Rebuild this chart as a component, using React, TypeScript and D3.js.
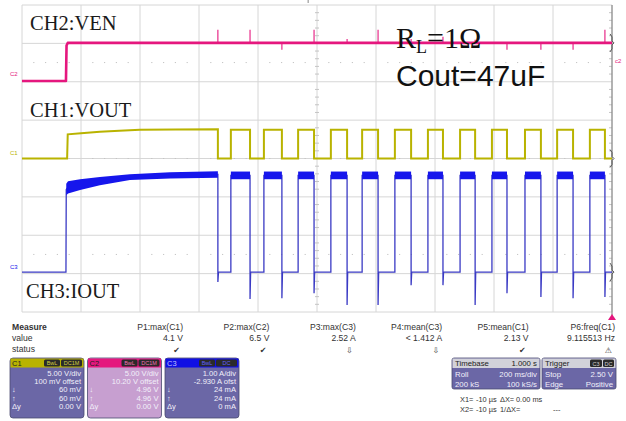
import React from "react";
import * as d3 from "d3";

const W = 626;
const H = 421;

// ---- scope settings ----
const timeDomainMs = [0, 2000]; // 10 div x 200 ms/div
const divDomain = [-4, 4];
const timeGridMs = [0, 200, 400, 600, 800, 1000, 1200, 1400, 1600, 1800, 2000];
const divGrid = [-4, -3, -2, -1, 0, 1, 2, 3, 4];
const dottedRowsDiv = [2.5, 0, -2.5];

const ch1VoltsPerDiv = 5;
const ch1ZeroDiv = 0;
const ch2VoltsPerDiv = 5;
const ch2ZeroDiv = 2.02;
const ch3AmpsPerDiv = 1;
const ch3ZeroDiv = -2.96;

// ---- waveform data ----
const enableRiseMs = 149;
const ch2HighV = 4.96;
const loadOffMs = [664, 773, 881, 990, 1102, 1207, 1319, 1427, 1536, 1644, 1759, 1868, 1976];
const loadOnMs = [708, 820, 936, 1047, 1153, 1264, 1376, 1485, 1593, 1705, 1814, 1925];
const ch2GlitchV = [1.7, 1.7, -0.9, 1.7, 0.5, 1.7, 0.5, 0.8, 0.4, -0.9, -0.9, -0.9, 1.7];
const ch3UndershootA = [-0.26, -0.7, -0.68, -0.55, -0.86, -0.86, -0.34, -0.34, -0.86, -0.55, -0.65, -0.68, -0.65];

const ch1StartupMs = [153, 155, 200, 264, 330, 400, 520, 664];
const ch1StartupV = [0, 3.15, 3.3, 3.5, 3.62, 3.75, 3.78, 3.8];
const ch1HighV = 3.75;

const ch3StartupMs = [150, 156, 197, 264, 366, 502, 664];
const ch3StartupHiA = [2.3, 2.37, 2.42, 2.48, 2.55, 2.6, 2.63];
const ch3StartupLoA = [2.0, 2.05, 2.14, 2.26, 2.4, 2.44, 2.46];
const ch3HighHiA = 2.62;
const ch3HighLoA = 2.42;
const ch3HighA = 2.52;

// ---- text data ----
const traceLabels = ["CH2:VEN", "CH1:VOUT", "CH3:IOUT"];
const measureLabels = ["P1:max(C1)", "P2:max(C2)", "P3:max(C3)", "P4:mean(C3)", "P5:mean(C1)", "P6:freq(C1)"];
const measureValues = ["4.1 V", "6.5 V", "2.52 A", "< 1.412 A", "2.13 V", "9.115513 Hz"];
const measureStatus = ["\u2714", "\u2714", "\u21E9", "\u21E9", "\u2714", "\u26A0"];
const chanNames = ["C1", "C2", "C3"];
const chanBadges = [["BwL", "DC1M"], ["BwL", "DC1M"], ["BwL", "DC"]];
const chanScale = ["5.00 V/div", "5.00 V/div", "1.00 A/div"];
const chanOffset = ["100 mV offset", "10.20 V offset", "-2.930 A ofst"];
const chanDown = ["60 mV", "4.96 V", "24 mA"];
const chanUp = ["60 mV", "4.96 V", "24 mA"];
const chanDelta = ["0.00 V", "0.00 V", "0 mA"];
const cursorRows = [
  ["X1=", "-10 µs", "ΔX=", "0.00 ms"],
  ["X2=", "-10 µs", "1/ΔX=", "---"],
];

const COL = {
  pink: "#e5177e",
  yellow: "#b9b300",
  blue: "#1616ec",
  blueEdge: "#3a3ac4",
  grid: "#d6d6d6",
};

const x = d3.scaleLinear().domain(timeDomainMs).range([22, 612]);
const yDiv = d3.scaleLinear().domain(divDomain).range([312, 5]);
const chY = (perDiv: number, zeroDiv: number) => (v: number) => yDiv(zeroDiv + v / perDiv);
const y1 = chY(ch1VoltsPerDiv, ch1ZeroDiv);
const y2 = chY(ch2VoltsPerDiv, ch2ZeroDiv);
const y3 = chY(ch3AmpsPerDiv, ch3ZeroDiv);

type P = [number, number];

function ch1Points(): P[] {
  const pts: P[] = [[0, 0]];
  ch1StartupMs.forEach((t, i) => pts.push([t, ch1StartupV[i]]));
  loadOffMs.forEach((off, i) => {
    if (i > 0) pts.push([off, ch1HighV]);
    pts.push([off, 0]);
    if (i < loadOnMs.length) {
      pts.push([loadOnMs[i], 0]);
      pts.push([loadOnMs[i], ch1HighV]);
    }
  });
  pts.push([timeDomainMs[1], 0]);
  return pts;
}

function ch2Points(): P[] {
  return [[0, 0], [enableRiseMs, 0], [enableRiseMs + 2, ch2HighV * 0.93], [enableRiseMs + 6, ch2HighV], [timeDomainMs[1], ch2HighV]];
}

function ch3Points(): P[] {
  const pts: P[] = [[0, 0], [enableRiseMs, 0]];
  ch3StartupMs.forEach((t, i) => pts.push([t, (ch3StartupHiA[i] + ch3StartupLoA[i]) / 2]));
  loadOffMs.forEach((off, i) => {
    if (i > 0) pts.push([off, ch3HighA]);
    pts.push([off, ch3UndershootA[i]]);
    pts.push([off + 2, 0]);
    if (i < loadOnMs.length) {
      pts.push([loadOnMs[i], 0]);
      pts.push([loadOnMs[i], ch3HighA]);
    }
  });
  pts.push([timeDomainMs[1], 0]);
  return pts;
}

type B = { t: number; hi: number; lo: number };
function ch3Bands(): B[][] {
  const bands: B[][] = [];
  bands.push(ch3StartupMs.map((t, i) => ({ t, hi: ch3StartupHiA[i], lo: ch3StartupLoA[i] })));
  loadOnMs.forEach((on, i) => {
    const off = loadOffMs[i + 1];
    bands.push([
      { t: on, hi: ch3HighHiA, lo: ch3HighLoA },
      { t: off, hi: ch3HighHiA, lo: ch3HighLoA },
    ]);
  });
  return bands;
}

function Box({ i }: { i: number }) {
  const x0 = 10 + i * 77.5;
  const w = 74;
  const top = 358;
  const head = [COL.yellow, COL.pink, "#1010e4"][i];
  const body = ["#6b67a6", "#c79fd0", "#6b67a6"][i];
  const badgeText = ["#d8d040", "#f070b0", "#6060ff"][i];
  const rx = x0 + w - 3;
  const rows = [chanScale[i], chanOffset[i], chanDown[i], chanUp[i], chanDelta[i]];
  const left = ["", "", "\u2193", "\u2191", "\u0394y"];
  return (
    <g fontFamily="Liberation Sans, Arial, sans-serif" fontSize={7.6}>
      <rect x={x0} y={top} width={w} height={60} rx={3} fill={body} stroke="#4a4a70" strokeWidth={0.8} />
      <rect x={x0 + 0.5} y={top + 0.5} width={w - 1} height={9} fill={head} />
      <text x={x0 + 2} y={top + 7.8} fill={i === 2 ? "#c0c0ff" : "#222"} fontSize={7.5}>{chanNames[i]}</text>
      <rect x={x0 + 34} y={top + 1.5} width={16} height={7} rx={1.5} fill="#2a2a2a" />
      <text x={x0 + 42} y={top + 7.3} fill={badgeText} fontSize={5.5} textAnchor="middle">{chanBadges[i][0]}</text>
      <rect x={x0 + 51} y={top + 1.5} width={w - 53} height={7} rx={1.5} fill="#2a2a2a" />
      <text x={x0 + 51 + (w - 53) / 2} y={top + 7.3} fill={badgeText} fontSize={5.5} textAnchor="middle">{chanBadges[i][1]}</text>
      {rows.map((r, k) => (
        <text key={k} x={rx} y={top + 17.5 + k * 8.4} fill="#f2f0fa" textAnchor="end">{r}</text>
      ))}
      {left.map((l, k) => (l ? <text key={"l" + k} x={x0 + 2} y={top + 17.5 + k * 8.4} fill="#f2f0fa">{l}</text> : null))}
    </g>
  );
}

export default function App() {
  const p1 = d3.line<P>().x((d) => x(d[0])).y((d) => y1(d[1]))(ch1Points()) || "";
  const p2 = d3.line<P>().x((d) => x(d[0])).y((d) => y2(d[1]))(ch2Points()) || "";
  const p3 = d3.line<P>().x((d) => x(d[0])).y((d) => y3(d[1]))(ch3Points()) || "";
  const area = d3.area<B>().x((d) => x(d.t)).y0((d) => y3(d.lo)).y1((d) => y3(d.hi));
  const bands = ch3Bands();

  const minorX: number[] = [];
  for (let t = 0; t <= 2000; t += 40) if (t % 200 !== 0) minorX.push(t);
  const minorY: number[] = [];
  for (let v = -4; v <= 4.001; v += 0.2) if (Math.abs(v - Math.round(v)) > 0.01) minorY.push(v);

  const colX = d3.scaleLinear().domain([0, 5]).range([183, 615]);
  const cursorX = [460, 476, 500, 516];

  return (
    <svg width={W} height={H} style={{ position: "absolute", left: 0, top: 0, background: "#fff" }}>
      <rect width={W} height={H} fill="#fff" />
      {/* grid */}
      <g stroke={COL.grid} strokeWidth={1}>
        {timeGridMs.map((t) => (
          <line key={"v" + t} x1={x(t)} x2={x(t)} y1={yDiv(-4)} y2={yDiv(4)} />
        ))}
        {divGrid.map((d) => (
          <line key={"h" + d} x1={x(0)} x2={x(2000)} y1={yDiv(d)} y2={yDiv(d)} />
        ))}
      </g>
      <g stroke="#c4c4c4" strokeWidth={1}>
        {dottedRowsDiv.map((d) =>
          minorX.map((t) => <line key={d + "_" + t} x1={x(t) - 0.6} x2={x(t) + 0.6} y1={yDiv(d)} y2={yDiv(d)} />)
        )}
        {minorY.map((v) => (
          <line key={"c" + v} x1={x(1000) - 2} x2={x(1000) + 2} y1={yDiv(v)} y2={yDiv(v)} />
        ))}
        {minorY.map((v) => (
          <line key={"r" + v} x1={x(2000) - 3} x2={x(2000)} y1={yDiv(v)} y2={yDiv(v)} />
        ))}
      </g>
      <line x1={x(2000)} x2={x(2000)} y1={yDiv(4)} y2={yDiv(-4) + 3} stroke="#7a7a7a" strokeWidth={1} />
      <line x1={x(970)} x2={x(970)} y1={0} y2={3} stroke="#888" strokeWidth={1} />

      {/* traces */}
      <path d={p2} fill="none" stroke={COL.pink} strokeWidth={2.6} strokeLinejoin="round" />
      <g stroke={COL.pink} strokeWidth={1.1}>
        {loadOffMs.map((t, i) => (
          <line key={"g" + i} x1={x(t)} x2={x(t)} y1={y2(ch2HighV)} y2={y2(ch2HighV + ch2GlitchV[i])} />
        ))}
      </g>
      <path d={p1} fill="none" stroke={COL.yellow} strokeWidth={2} />
      <path d={p3} fill="none" stroke={COL.blueEdge} strokeWidth={1.3} />
      {bands.map((b, i) => (
        <path key={"b" + i} d={area(b) || ""} fill={COL.blue} />
      ))}

      {/* channel markers */}
      <text x={10} y={76} fontSize={6} fill={COL.pink} fontFamily="Liberation Sans, sans-serif">C2</text>
      <text x={10} y={155} fontSize={6} fill={COL.yellow} fontFamily="Liberation Sans, sans-serif">C1</text>
      <text x={10} y={269} fontSize={6} fill={COL.blue} fontFamily="Liberation Sans, sans-serif">C3</text>
      <text x={615} y={63} fontSize={6} fill={COL.pink} fontFamily="Liberation Sans, sans-serif">c2</text>
      <g fill="none" stroke="#555" strokeWidth={1}>
        {[y2(ch2HighV), y1(0), y3(0)].map((yy, i) => (
          <path key={"m" + i} d={`M${x(2000) - 2},${yy - 9} l2,3 l0,4 l2,2 l-2,2 l0,4 l-2,3`} />
        ))}
      </g>
      <path d={`M${x(2000)},${yDiv(-4) + 2} l4,6 l-8,0 z`} fill={COL.pink} />

      {/* annotations */}
      <g fontFamily="Liberation Serif, Times New Roman, serif" fontSize={20.5} fill="#1a1a1a">
        <text x={30} y={30}>{traceLabels[0]}</text>
        <text x={30} y={117}>{traceLabels[1]}</text>
        <text x={26} y={298}>{traceLabels[2]}</text>
      </g>
      <text x={396} y={48} fontFamily="Liberation Serif, Times New Roman, serif" fontSize={30} fill="#111">
        R<tspan fontSize={18} dy={5}>L</tspan><tspan dy={-5}>=1Ω</tspan>
      </text>
      <text x={396} y={86} fontFamily="Liberation Sans, Arial, sans-serif" fontSize={30} fill="#111">Cout=47uF</text>

      {/* measure table */}
      <g fontFamily="Liberation Sans, Arial, sans-serif" fontSize={8.6} fill="#333">
        <text x={12} y={330} fontWeight="bold">Measure</text>
        <text x={12} y={341}>value</text>
        <text x={12} y={352}>status</text>
        {measureLabels.map((m, i) => (
          <text key={m} x={colX(i)} y={330} textAnchor="end">{m}</text>
        ))}
        {measureValues.map((m, i) => (
          <text key={"v" + i} x={colX(i)} y={341} textAnchor="end">{m}</text>
        ))}
        {measureStatus.map((m, i) => (
          <text key={"s" + i} x={colX(i) - 3} y={353} textAnchor="end" fontFamily="DejaVu Sans, sans-serif" fontSize={8}>{m}</text>
        ))}
      </g>
      {chanNames.map((_, i) => (
        <Box key={i} i={i} />
      ))}

      {/* timebase / trigger */}
      <g fontFamily="Liberation Sans, Arial, sans-serif" fontSize={7.8}>
        <rect x={452} y={358} width={88} height={31} rx={2} fill="#6b67a6" stroke="#4a4a70" strokeWidth={0.8} />
        <rect x={452.5} y={358.5} width={87} height={9.5} fill="#d2d2da" />
        <text x={455} y={366} fill="#222">Timebase</text>
        <text x={537} y={366} fill="#222" textAnchor="end">1.000 s</text>
        <text x={455} y={376.5} fill="#f2f0fa">Roll</text>
        <text x={537} y={376.5} fill="#f2f0fa" textAnchor="end">200 ms/div</text>
        <text x={455} y={386.5} fill="#f2f0fa">200 kS</text>
        <text x={537} y={386.5} fill="#f2f0fa" textAnchor="end">100 kS/s</text>

        <rect x={542} y={358} width={74} height={31} rx={2} fill="#6b67a6" stroke="#4a4a70" strokeWidth={0.8} />
        <rect x={542.5} y={358.5} width={73} height={9.5} fill="#d2d2da" />
        <text x={545} y={366} fill="#222">Trigger</text>
        <rect x={590} y={359.5} width={12} height={7.5} rx={1.5} fill="#2a2a2a" />
        <text x={596} y={365.5} fill="#d0d0d0" fontSize={5.5} textAnchor="middle">C3</text>
        <rect x={603} y={359.5} width={11} height={7.5} rx={1.5} fill="#2a2a2a" />
        <text x={608.5} y={365.5} fill="#d0d0d0" fontSize={5.5} textAnchor="middle">DC</text>
        <text x={545} y={376.5} fill="#f2f0fa">Stop</text>
        <text x={613} y={376.5} fill="#f2f0fa" textAnchor="end">2.50 V</text>
        <text x={545} y={386.5} fill="#f2f0fa">Edge</text>
        <text x={613} y={386.5} fill="#f2f0fa" textAnchor="end">Positive</text>

        <g fill="#333" fontSize={7.4}>
          {cursorRows.map((row, r) =>
            row.map((s, c) => (
              <text key={r + "_" + c} x={c === 3 && r === 1 ? 553 : cursorX[c]} y={402 + r * 10}>{s}</text>
            ))
          )}
        </g>
      </g>
    </svg>
  );
}
